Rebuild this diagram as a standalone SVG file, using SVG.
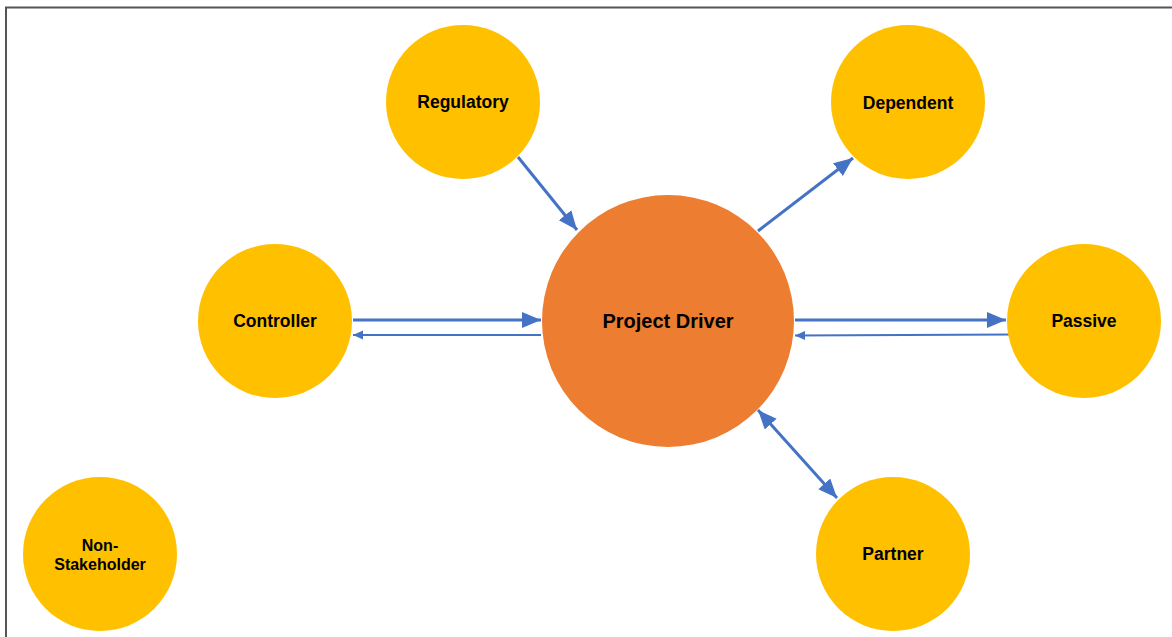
<svg xmlns="http://www.w3.org/2000/svg" width="1172" height="637" viewBox="0 0 1172 637">
  <style>
    .stake { fill: #FFC000; }
    .driver { fill: #ED7D31; }
    .lbl { font-family: "Liberation Sans", Arial, sans-serif; font-weight: bold; fill: #000; text-anchor: middle; font-size: 17.5px; }
    .main { stroke: #4472C4; stroke-width: 3; fill: none; }
    .back { stroke: #4472C4; stroke-width: 2; fill: none; }
  </style>
  <defs>
    <marker id="head" markerUnits="userSpaceOnUse" markerWidth="20" markerHeight="18" refX="19" refY="8" orient="auto-start-reverse">
      <path d="M0,0 L19,8 L0,16 Z" fill="#4472C4"/>
    </marker>
    <marker id="headSmall" markerUnits="userSpaceOnUse" markerWidth="11" markerHeight="10" refX="10" refY="4.5" orient="auto">
      <path d="M0,0 L10,4.5 L0,9 Z" fill="#4472C4"/>
    </marker>
  </defs>

  <rect width="1172" height="637" fill="#fff"/>
  <!-- frame -->
  <path d="M6,637 V7.5 H1172" fill="none" stroke="#555" stroke-width="2"/>

  <g id="connectors">
    <line class="main" x1="353" y1="320" x2="541" y2="320" marker-end="url(#head)"/>
    <line class="back" x1="541" y1="335" x2="353" y2="335" marker-end="url(#headSmall)"/>
    <line class="main" x1="795" y1="320" x2="1006" y2="320" marker-end="url(#head)"/>
    <line class="back" x1="1014" y1="334.5" x2="795" y2="335.5" marker-end="url(#headSmall)"/>
    <line class="main" x1="518" y1="157" x2="577" y2="230" marker-end="url(#head)"/>
    <line class="main" x1="758" y1="231" x2="853" y2="158" marker-end="url(#head)"/>
    <line class="main" x1="758" y1="410" x2="837" y2="498" marker-start="url(#head)" marker-end="url(#head)"/>
  </g>

  <g id="node-driver">
    <circle class="driver" cx="668" cy="321" r="126"/>
    <text class="lbl" x="668" y="328" style="font-size:20px">Project Driver</text>
  </g>
  <g id="node-regulatory">
    <circle class="stake" cx="463" cy="102" r="77"/>
    <text class="lbl" x="463" y="108">Regulatory</text>
  </g>
  <g id="node-dependent">
    <circle class="stake" cx="908" cy="102" r="77"/>
    <text class="lbl" x="908" y="109">Dependent</text>
  </g>
  <g id="node-controller">
    <circle class="stake" cx="275" cy="321" r="77"/>
    <text class="lbl" x="275" y="327">Controller</text>
  </g>
  <g id="node-passive">
    <circle class="stake" cx="1084" cy="321" r="77"/>
    <text class="lbl" x="1084" y="327">Passive</text>
  </g>
  <g id="node-partner">
    <circle class="stake" cx="893" cy="554" r="77"/>
    <text class="lbl" x="893" y="560">Partner</text>
  </g>
  <g id="node-non-stakeholder">
    <circle class="stake" cx="100" cy="554" r="77"/>
    <text class="lbl" x="100" y="551" style="font-size:16px">Non-</text>
    <text class="lbl" x="100" y="570" style="font-size:16px">Stakeholder</text>
  </g>
</svg>
